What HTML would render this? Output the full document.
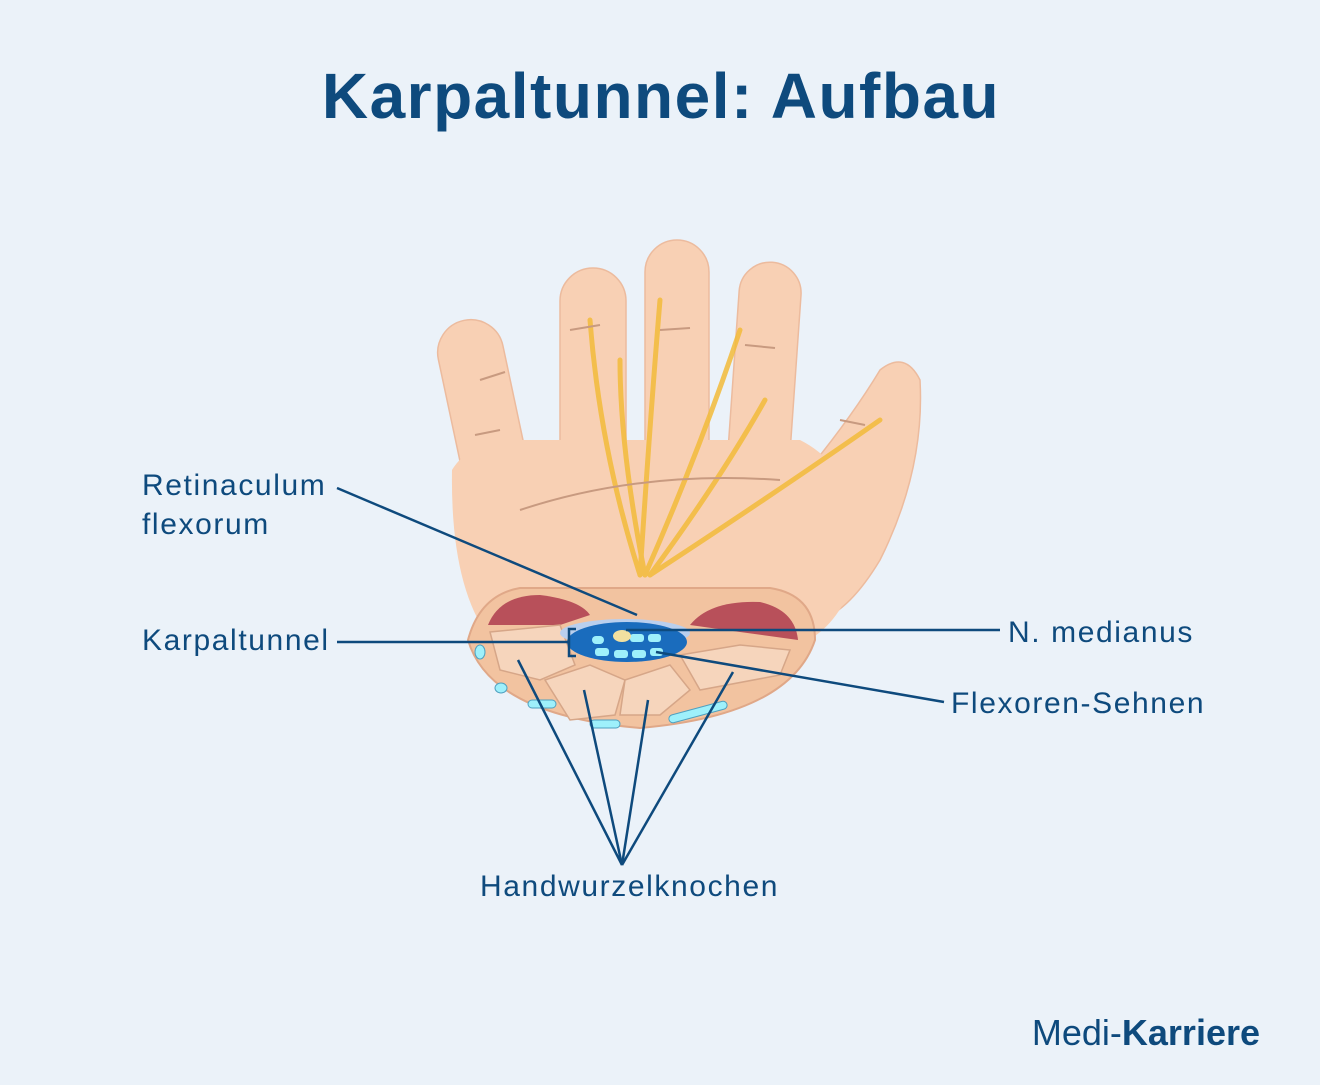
<!DOCTYPE html>
<html><head><meta charset="utf-8"><style>
body{margin:0;width:1320px;height:1080px;background:#ebf2f9;overflow:hidden;font-family:"Liberation Sans",sans-serif}
</style></head><body>
<svg width="1320" height="1080" viewBox="0 0 1320 1080" xmlns="http://www.w3.org/2000/svg">
<rect width="1320" height="1080" fill="#ebf2f9"/>
<text x="661" y="118" text-anchor="middle" font-family="Liberation Sans" font-weight="bold" font-size="64" letter-spacing="1.5" fill="#0e4a7d">Karpaltunnel: Aufbau</text>
<g fill="#f8d0b4" stroke="#ecbb9e" stroke-width="1.5">
<rect x="452" y="318" width="66" height="210" rx="33" transform="rotate(-12 486 420)"/>
<rect x="560" y="268" width="66" height="240" rx="33"/>
<rect x="645" y="240" width="64" height="260" rx="32"/>
<rect x="733" y="262" width="62" height="250" rx="31" transform="rotate(4 764 380)"/>
<path d="M800 480 Q850 420 880 370 Q905 350 920 380 Q925 470 880 560 Q850 610 820 620 Z"/>
<path d="M452 470 Q470 440 520 440 L800 440 Q860 470 860 560 Q840 640 780 650 L500 650 Q450 600 452 470 Z" stroke="none"/>
</g>
<g stroke="#f3bb3a" stroke-width="5" fill="none" stroke-linecap="round" opacity="0.85">
<path d="M640 575 Q600 450 590 320"/><path d="M640 575 Q650 420 660 300"/><path d="M645 575 Q700 450 740 330"/>
<path d="M650 575 Q780 490 880 420"/><path d="M645 575 Q620 450 620 360"/><path d="M650 575 Q720 480 765 400"/>
</g>
<g stroke="#c89a80" stroke-width="2" fill="none">
<path d="M520 510 Q640 470 780 480"/><path d="M480 380 L505 372"/><path d="M475 435 L500 430"/><path d="M570 330 L600 325"/><path d="M660 330 L690 328"/><path d="M745 345 L775 348"/><path d="M840 420 L865 425"/>
</g>
<path d="M468 640 Q480 595 520 588 L770 588 Q815 595 815 640 Q790 715 640 728 Q490 715 468 640 Z" fill="#f2c3a0" stroke="#e0a888" stroke-width="2"/>
<path d="M488 625 Q500 595 540 595 Q580 600 590 615 L560 625 Z" fill="#b8505a"/>
<path d="M690 625 Q710 600 760 602 Q795 610 798 640 L740 632 Z" fill="#b8505a"/>
<g fill="#f6d5bc" stroke="#d6a688" stroke-width="1.5">
<path d="M490 632 L560 625 L575 665 L540 680 L500 670 Z"/>
<path d="M545 680 L590 665 L625 680 L615 715 L570 720 Z"/>
<path d="M625 680 L670 665 L690 690 L660 715 L620 715 Z"/>
<path d="M680 655 L740 645 L790 650 L780 675 L700 690 Z"/>
</g>
<ellipse cx="625" cy="633" rx="65" ry="14" fill="#b9cfee"/>
<ellipse cx="627" cy="642" rx="60" ry="20" fill="#1a6cbd"/>
<g fill="#9ef0fb"><rect x="592" y="636" width="12" height="8" rx="4"/><rect x="630" y="634" width="14" height="8" rx="3"/><rect x="648" y="634" width="13" height="8" rx="3"/><rect x="595" y="648" width="14" height="8" rx="3"/><rect x="614" y="650" width="14" height="8" rx="3"/><rect x="632" y="650" width="14" height="8" rx="3"/><rect x="650" y="648" width="13" height="8" rx="3"/></g>
<ellipse cx="622" cy="636" rx="9" ry="6" fill="#f2e0a0"/>
<g fill="#9ef0fb" stroke="#4fa0c0"><ellipse cx="480" cy="652" rx="5" ry="7"/><ellipse cx="501" cy="688" rx="6" ry="5"/><rect x="528" y="700" width="28" height="8" rx="4"/><rect x="590" y="720" width="30" height="8" rx="4"/><rect x="668" y="708" width="60" height="8" rx="4" transform="rotate(-15 698 712)"/></g>
<g stroke="#0e4a7d" stroke-width="2.5" fill="none">
<path d="M337 488 L637 615"/>
<path d="M337 642 L569 642"/><path d="M576 629 L569 629 L569 656 L576 656"/>
<path d="M626 630 L1000 630"/>
<path d="M656 652 L944 702"/>
<path d="M518 660 L622 865 L584 690"/><path d="M622 865 L648 700"/><path d="M622 865 L733 672"/>
</g>
<g font-family="Liberation Sans" font-size="30" letter-spacing="1.6" fill="#0e4a7d">
<text x="142" y="495">Retinaculum</text><text x="142" y="534">flexorum</text>
<text x="142" y="650">Karpaltunnel</text>
<text x="1008" y="642">N. medianus</text>
<text x="951" y="713">Flexoren-Sehnen</text>
<text x="480" y="896">Handwurzelknochen</text>
</g>
<text x="1260" y="1045" text-anchor="end" font-family="Liberation Sans" font-size="36" fill="#0e4a7d">Medi-<tspan font-weight="bold">Karriere</tspan></text>
</svg>
</body></html>
